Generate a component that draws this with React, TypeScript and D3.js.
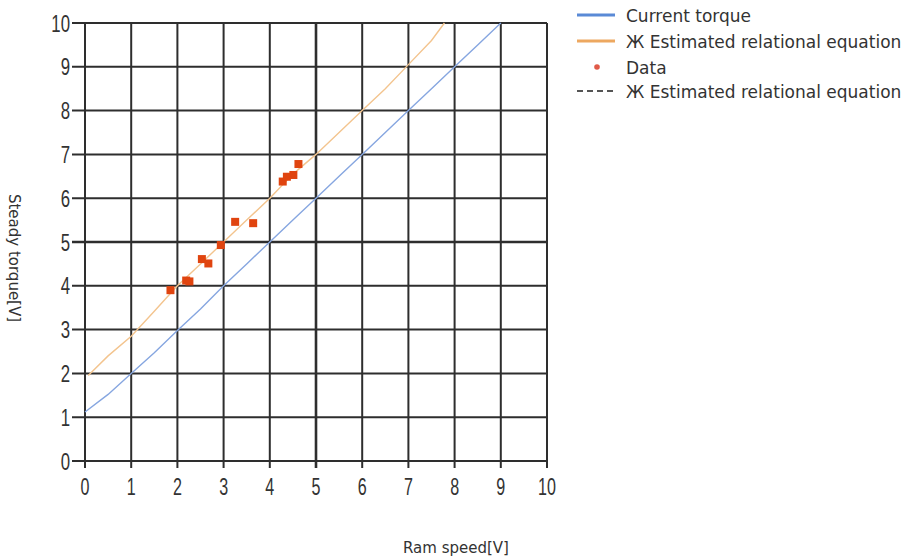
import React from 'react';
import * as d3 from 'd3';

const xTicks = [0, 1, 2, 3, 4, 5, 6, 7, 8, 9, 10];
const yTicks = [0, 1, 2, 3, 4, 5, 6, 7, 8, 9, 10];

const currentTorqueX = [0, 0.5, 1, 1.5, 2, 2.5, 3, 3.5, 4, 4.5, 5, 5.5, 6, 6.5, 7, 7.5, 8, 8.5, 9];
const currentTorqueY = [1.12, 1.52, 2.0, 2.47, 2.98, 3.47, 4.0, 4.5, 5.0, 5.5, 6.0, 6.5, 7.0, 7.5, 8.0, 8.5, 9.0, 9.5, 10.0];

const estimatedX = [0.07, 0.5, 1, 1.5, 2, 2.5, 3, 3.5, 4, 4.5, 5, 5.5, 6, 6.5, 7, 7.5, 7.78];
const estimatedY = [1.95, 2.4, 2.85, 3.42, 4.0, 4.5, 5.0, 5.5, 6.0, 6.55, 7.0, 7.5, 8.0, 8.5, 9.05, 9.6, 10.0];

const dataX = [1.85, 2.19, 2.26, 2.53, 2.67, 2.94, 3.25, 3.64, 4.28, 4.37, 4.51, 4.62];
const dataY = [3.9, 4.12, 4.1, 4.61, 4.51, 4.93, 5.46, 5.43, 6.38, 6.49, 6.53, 6.78];

const legendLabels = ['Current torque', 'Ж Estimated relational equation', 'Data', 'Ж Estimated relational equation'];

const xTitle = 'Ram speed[V]';
const yTitle = 'Steady torque[V]';

export default function App() {
  const W = 912;
  const H = 560;
  const x = d3.scaleLinear().domain([0, 10]).range([85, 547]);
  const y = d3.scaleLinear().domain([0, 10]).range([461, 23]);

  const line = d3
    .line<[number, number]>()
    .x((d) => x(d[0]))
    .y((d) => y(d[1]));

  const blue = line(currentTorqueX.map((v, i) => [v, currentTorqueY[i]] as [number, number])) || '';
  const orange = line(estimatedX.map((v, i) => [v, estimatedY[i]] as [number, number])) || '';

  const gridColor = '#2e2e2e';
  const tickFont = 'Liberation Sans, Arial, sans-serif';
  const textFont = 'DejaVu Sans, Verdana, sans-serif';

  const legendY = [15, 41, 67, 91];

  return (
    <svg
      width={W}
      height={H}
      style={{ position: 'absolute', left: 0, top: 0, background: '#fff' }}
    >
      <rect x={0} y={0} width={W} height={H} fill="#fff" />
      {xTicks.map((t) => (
        <line
          key={'vx' + t}
          x1={x(t)}
          x2={x(t)}
          y1={y(10)}
          y2={y(0) + 7}
          stroke={gridColor}
          strokeWidth={t === 5 ? 2.6 : 2}
        />
      ))}
      {yTicks.map((t) => (
        <line
          key={'hy' + t}
          x1={x(0) - 13}
          x2={x(10)}
          y1={y(t)}
          y2={y(t)}
          stroke={gridColor}
          strokeWidth={t === 5 ? 2.6 : 2}
        />
      ))}
      {yTicks.map((t) => (
        <g key={'yl' + t} transform={`translate(70,${y(t)}) scale(0.7,1)`}>
          <text
            x={0}
            y={0}
            textAnchor="end"
            dominantBaseline="central"
            fontFamily={tickFont}
            fontSize={24}
            fill="#333"
          >
            {t}
          </text>
        </g>
      ))}
      {xTicks.map((t) => (
        <g key={'xl' + t} transform={`translate(${x(t)},${487}) scale(0.7,1)`}>
          <text
            x={0}
            y={0}
            textAnchor="middle"
            dominantBaseline="central"
            fontFamily={tickFont}
            fontSize={23}
            fill="#333"
          >
            {t}
          </text>
        </g>
      ))}
      <path d={orange} fill="none" stroke="#f3c48e" strokeWidth={1.4} />
      <path d={blue} fill="none" stroke="#86a6e0" strokeWidth={1.4} />
      {dataX.map((v, i) => (
        <rect
          key={'d' + i}
          x={x(v) - 4}
          y={y(dataY[i]) - 4}
          width={8}
          height={8}
          fill="#e0440f"
        />
      ))}
      <text
        x={456}
        y={548}
        textAnchor="middle"
        dominantBaseline="central"
        fontFamily={textFont}
        fontSize={15}
        fill="#333"
      >
        {xTitle}
      </text>
      <text
        transform={`translate(14,258) rotate(90)`}
        textAnchor="middle"
        dominantBaseline="central"
        fontFamily={textFont}
        fontSize={15}
        fill="#333"
      >
        {yTitle}
      </text>
      <line x1={577} x2={615} y1={legendY[0]} y2={legendY[0]} stroke="#5a8ad6" strokeWidth={3} />
      <line x1={577} x2={615} y1={legendY[1]} y2={legendY[1]} stroke="#eda860" strokeWidth={3} />
      <circle cx={597} cy={legendY[2]} r={2.8} fill="#e05a48" />
      <line
        x1={577}
        x2={615}
        y1={legendY[3]}
        y2={legendY[3]}
        stroke="#555"
        strokeWidth={2}
        strokeDasharray="6,4"
      />
      {legendLabels.map((s, i) => (
        <text
          key={'lg' + i}
          x={626}
          y={legendY[i] + 1}
          dominantBaseline="central"
          fontFamily={textFont}
          fontSize={17}
          fill="#333"
        >
          {s}
        </text>
      ))}
    </svg>
  );
}
